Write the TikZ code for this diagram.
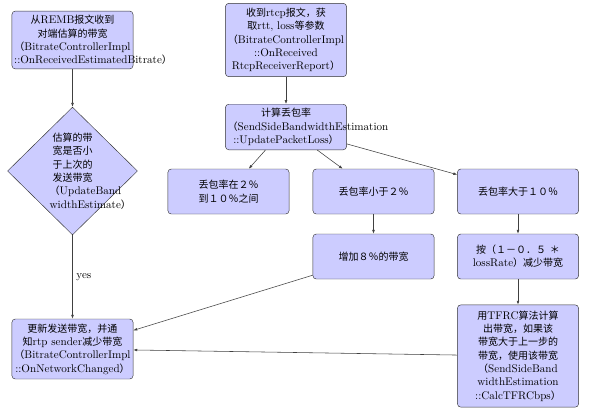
\documentclass[tikz,border=0pt]{standalone}
\usepackage{fontspec}
\newfontfamily\zhfont{Noto Sans CJK SC}[Scale=0.9]
\newcommand{\zh}[1]{{\zhfont #1}}
\usetikzlibrary{shapes.geometric, arrows.meta}
\hyphenpenalty=10000
\exhyphenpenalty=10000

\begin{document}
\begin{tikzpicture}[x=0.9pt, y=-0.9pt,
                box/.style={rectangle, rounded corners=3pt, draw=black!80, fill=blue!20, minimum width=109pt, text width=105pt, inner xsep=2pt, inner ysep=2pt, align=center},
                check/.style={diamond, aspect=1, draw=black!80, fill=blue!20, text width=41pt, inner sep=0pt, minimum width=117pt, minimum height=115pt, align=center},
                flow/.style={-{Latex[length=3.5pt, width=2.5pt]}, draw=black!75, line width=0.5pt}]
                \useasboundingbox (0,0) rectangle (600,416);

                % left column
                \node[box, minimum height=52pt] (remb) at (72.5,40) {\zh{从}REMB\zh{报文收到}\\\zh{对端估算的带宽}\\\zh{（}BitrateControllerImpl\\::OnReceivedEstimatedBitrate\zh{）}};
                \node[check] (chk) at (72.5,171) {\zh{估算的带}\\\zh{宽是否小}\\\zh{于上次的}\\\zh{发送带宽}\\\zh{（}UpdateBand\\widthEstimate\zh{）}};
                \node[box, minimum height=54pt] (upd) at (72.5,349) {\zh{更新发送带宽，并通}\\\zh{知}rtp sender\zh{减少带宽}\\\zh{（}BitrateControllerImpl\\::OnNetworkChanged\zh{）}};

                % rtcp branch
                \node[box, minimum height=66pt] (rtcp) at (286,40) {\zh{收到}rtcp\zh{报文，获}\\\zh{取}rtt, loss\zh{等参数}\\\zh{（}BitrateControllerImpl\\::OnReceived\\RtcpReceiverReport\zh{）}};
                \node[box, minimum height=41pt] (loss) at (286,127) {\zh{计算丢包率}\\\zh{（}SendSideBandwidthEstimation\\::UpdatePacketLoss\zh{）}};
                \node[box, minimum height=40.5pt] (mid) at (228.5,191.5) {\zh{丢包率在２％}\\\zh{到１０％之间}};
                \node[box, minimum height=40.5pt] (low) at (373.5,191.5) {\zh{丢包率小于２％}};
                \node[box, minimum height=40.5pt] (high) at (518,191.5) {\zh{丢包率大于１０％}};
                \node[box, minimum height=40.5pt] (inc) at (373.5,256.5) {\zh{增加８％的带宽}};
                \node[box, minimum height=40.5pt] (dec) at (518,256.5) {\zh{按（１－０．５ ＊}\\lossRate\zh{）减少带宽}};
                \node[box, minimum height=92pt] (tfrc) at (518,356) {\zh{用}TFRC\zh{算法计算}\\\zh{出带宽，如果该}\\\zh{带宽大于上一步的}\\\zh{带宽，使用该带宽}\\\zh{（}SendSideBand\\widthEstimation\\::CalcTFRCbps\zh{）}};

                \draw[flow] (remb) -- (chk);
                \draw[flow] (chk) -- node[right] {yes} (upd);
                \draw[flow] (rtcp) -- (loss);
                \draw[flow] (loss) -- (mid);
                \draw[flow] (loss) -- (low);
                \draw[flow] (loss) -- (high);
                \draw[flow] (low) -- (inc);
                \draw[flow] (high) -- (dec);
                \draw[flow] (dec) -- (tfrc);
                \draw[flow] (inc) -- (upd);
                \draw[flow] (tfrc) -- (upd);
            \end{tikzpicture}
\end{document}
